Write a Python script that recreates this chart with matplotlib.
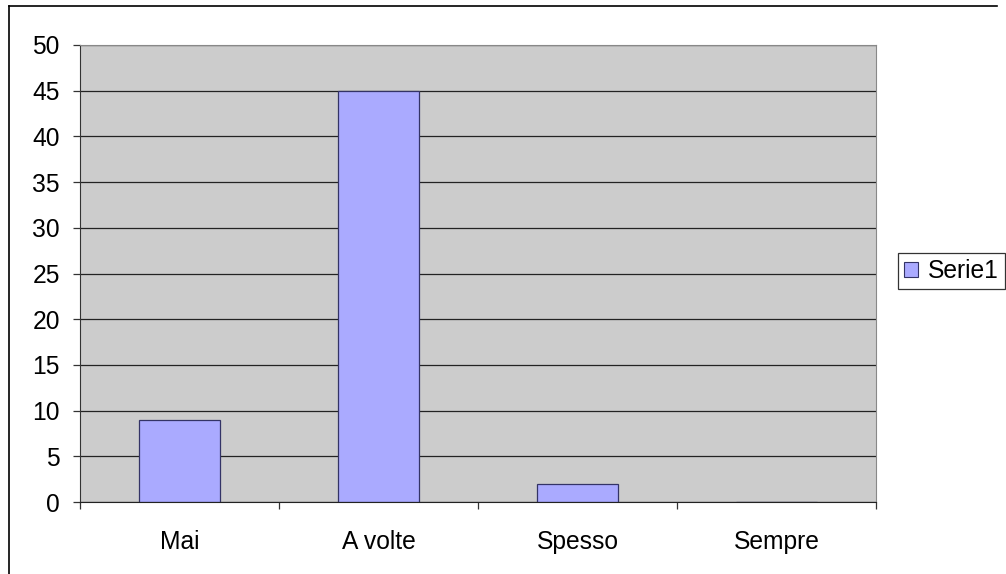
import numpy as np
import matplotlib.pyplot as plt
from matplotlib.lines import Line2D
from matplotlib.patches import Patch

plt.rcParams['font.family'] = ['Liberation Sans', 'DejaVu Sans']

categorie = ['Mai', 'A volte', 'Spesso', 'Sempre']
serie1 = [9, 45, 2, 0]
y_ticks = [0, 5, 10, 15, 20, 25, 30, 35, 40, 45, 50]

W, H = 1006, 574
fs = 17.7
fig = plt.figure(figsize=(W / 100, H / 100), dpi=100)

# cornice esterna (solo sinistra e sopra visibili)
fig.add_artist(Line2D([9 / W, 997 / W], [1 - 6 / H, 1 - 6 / H], color='black', lw=1.2))
fig.add_artist(Line2D([9 / W, 9 / W], [0, 1 - 6 / H], color='black', lw=1.2))

ax = fig.add_axes([80 / W, (H - 502) / H, 796 / W, 457 / H])
ax.set_facecolor('#cccccc')

x = np.arange(len(categorie))
ax.bar(x, serie1, width=0.41, color='#aaaaff', edgecolor='#333366', linewidth=0.9, zorder=3)

ax.set_xlim(-0.5, len(categorie) - 0.5)
ax.set_ylim(0, 50)
ax.set_yticks(y_ticks)
ax.yaxis.grid(True, color='#222222', linewidth=0.9, zorder=1)
ax.set_axisbelow(True)

ax.set_xticks(x)
ax.set_xticklabels(categorie)
ax.set_xticks(np.arange(-0.5, len(categorie)), minor=True)
ax.tick_params(axis='x', which='major', length=0, pad=20, labelsize=fs)
ax.tick_params(axis='x', which='minor', length=5, width=0.9, color='#333333')
ax.tick_params(axis='y', length=5, width=0.9, color='#333333', labelsize=fs, pad=9.5)

for side in ['top', 'right']:
    ax.spines[side].set_color('#888888')
    ax.spines[side].set_linewidth(0.8)
ax.spines['left'].set_color('#333333')
ax.spines['bottom'].set_color('#222222')
ax.spines['bottom'].set_zorder(4)

handle = Patch(facecolor='#aaaaff', edgecolor='#333366', linewidth=0.8)
leg = fig.legend([handle], ['Serie1'], loc='upper left',
                 bbox_to_anchor=(898 / W, 1 - 253 / H), fontsize=fs,
                 frameon=True, fancybox=False, edgecolor='black',
                 borderpad=0.25, handlelength=0.55, handleheight=0.55,
                 handletextpad=0.4, borderaxespad=0)
leg.get_frame().set_linewidth(0.9)

fig.savefig('out.png', dpi=100)
